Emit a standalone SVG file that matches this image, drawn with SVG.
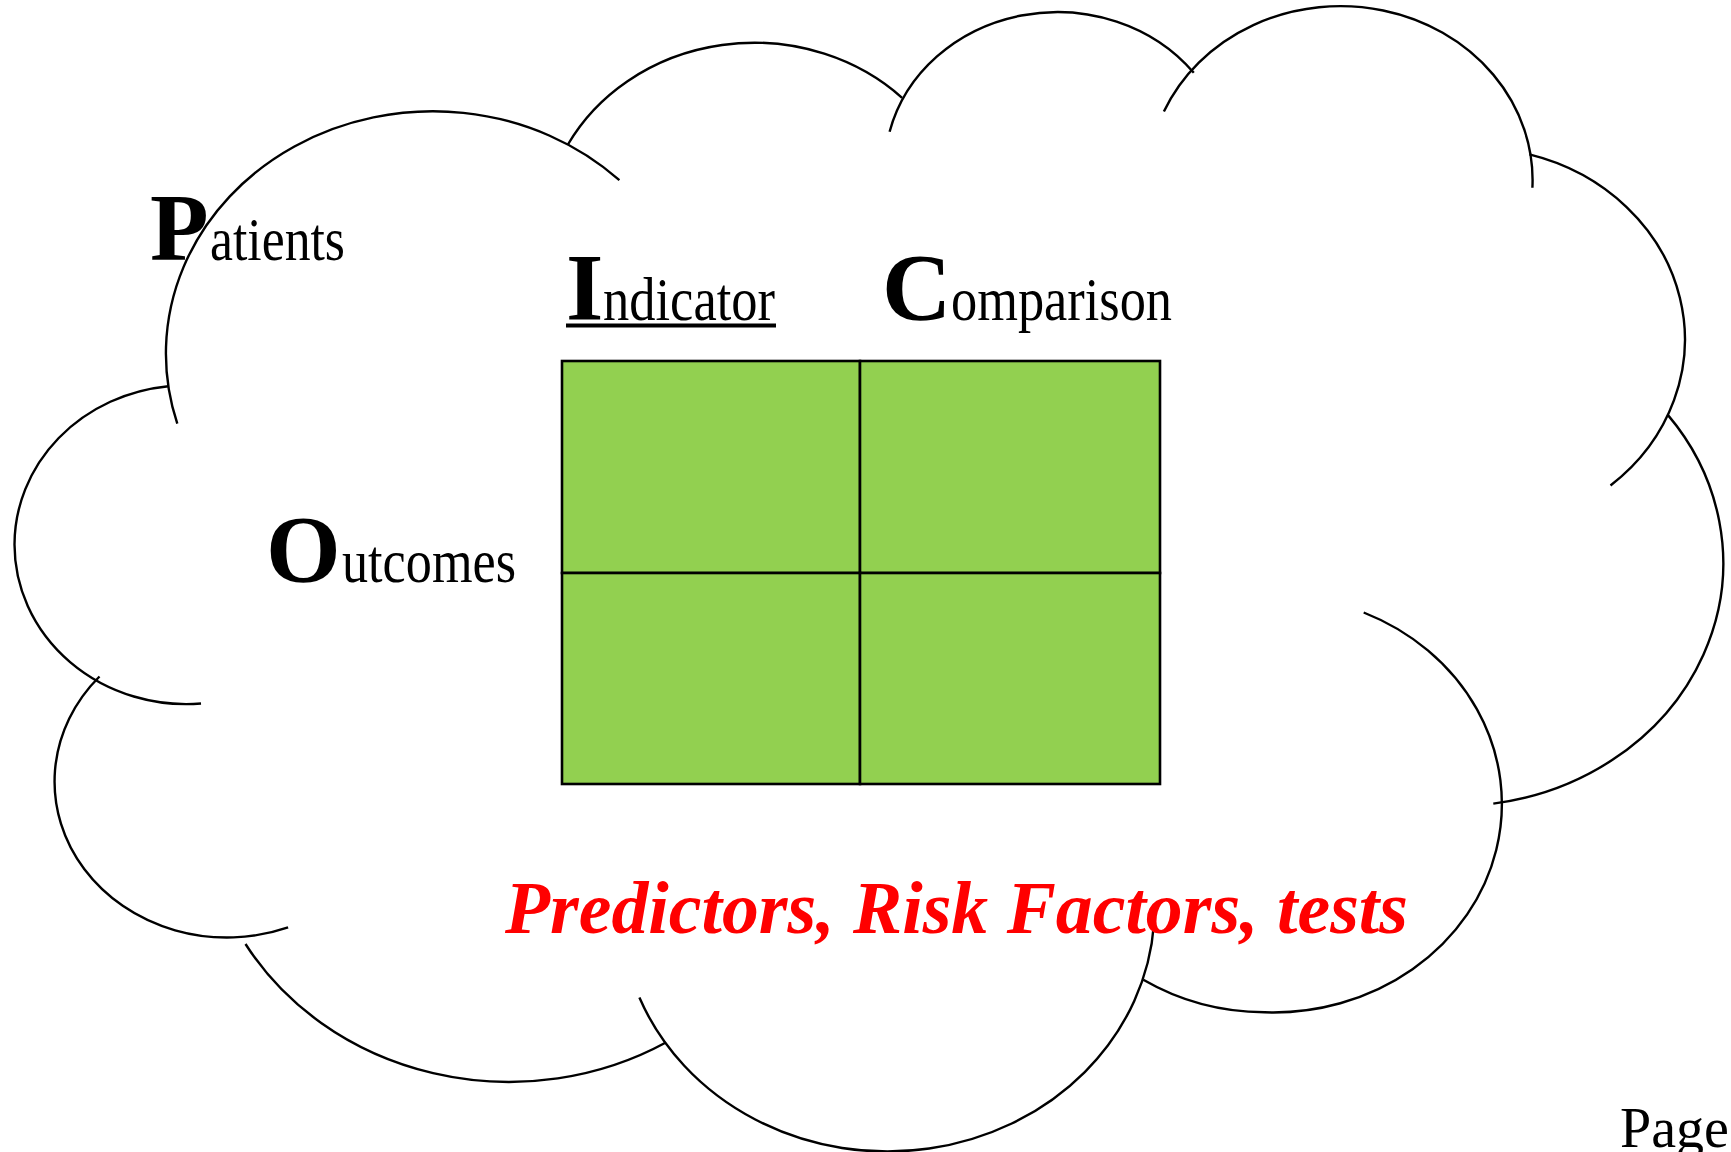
<svg xmlns="http://www.w3.org/2000/svg" width="1731" height="1152" viewBox="0 0 1731 1152">
<style>
.arc{fill:none;stroke:#000;stroke-width:2.4;stroke-linecap:butt}
.cell{fill:#92D050;stroke:#000;stroke-width:2.6}
.big{font-family:"Liberation Serif","Times New Roman",serif;font-weight:bold;font-size:96px;fill:#000}
.reg{font-family:"Liberation Serif","Times New Roman",serif;font-size:61px;fill:#000}
.red{font-family:"Liberation Serif","Times New Roman",serif;font-weight:bold;font-style:italic;font-size:74px;fill:#FF0000}
.page{font-family:"Liberation Serif","Times New Roman",serif;font-size:56px;fill:#000}
</style>
<rect width="1731" height="1152" fill="#fff"/>
<g id="cloud">
<path class="arc" d="M 177.3 423.6 A 267 242.3 0 0 1 619.4 180.2"/>
<path class="arc" d="M 567.9 144.5 A 210.9 191.6 0 0 1 902.1 97.8"/>
<path class="arc" d="M 889.6 131.8 A 172.6 156.7 0 0 1 1193.8 72.8"/>
<path class="arc" d="M 1163.9 111.6 A 192.1 173.9 0 0 1 1532.4 187.7"/>
<path class="arc" d="M 1529.4 154.4 A 210.9 191.7 0 0 1 1610.5 485.5"/>
<path class="arc" d="M 1667.8 414.9 A 267.9 243.1 0 0 1 1493.3 803.6"/>
<path class="arc" d="M 1363.7 612.5 A 228.8 208.5 0 0 1 1264.5 1012.3 A 228.8 208.5 0 0 1 1143.3 979.8"/>
<path class="arc" d="M 1154.0 923.5 A 267 243.9 0 0 1 639.4 997.6"/>
<path class="arc" d="M 665.9 1042.5 A 305.3 277.9 0 0 1 245.5 944.0"/>
<path class="arc" d="M 288.1 927.4 A 172.4 156.0 0 0 1 99.5 676.5"/>
<path class="arc" d="M 201 703.5 A 171.8 159.5 0 0 1 14.5 544.5 A 171.8 159.5 0 0 1 168.3 386.2"/>
</g>
<g id="grid">
<rect class="cell" x="562" y="361" width="298" height="212"/>
<rect class="cell" x="860" y="361" width="300" height="212"/>
<rect class="cell" x="562" y="573" width="298" height="211"/>
<rect class="cell" x="860" y="573" width="300" height="211"/>
</g>
<g id="patients">
<text class="big" x="150" y="260">P</text>
<text class="reg" x="210" y="260" textLength="135" lengthAdjust="spacingAndGlyphs">atients</text>
</g>
<g id="indicator">
<text class="big" x="566" y="320">I</text>
<text class="reg" x="603" y="320" textLength="172" lengthAdjust="spacingAndGlyphs">ndicator</text>
<rect x="566" y="323.5" width="210" height="4" fill="#000"/>
</g>
<g id="comparison">
<text class="big" x="882" y="320">C</text>
<text class="reg" x="951" y="320" textLength="221" lengthAdjust="spacingAndGlyphs">omparison</text>
</g>
<g id="outcomes">
<text class="big" x="266" y="582">O</text>
<text class="reg" x="342" y="582" textLength="174" lengthAdjust="spacingAndGlyphs">utcomes</text>
</g>
<g id="predictors">
<text class="red" x="505" y="933" textLength="903" lengthAdjust="spacingAndGlyphs">Predictors, Risk Factors, tests</text>
</g>
<g id="page">
<text class="page" x="1620" y="1147">Page</text>
</g>
</svg>
